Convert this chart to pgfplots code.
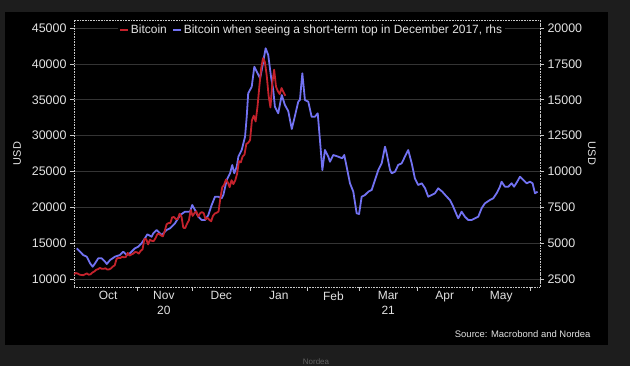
\documentclass[border=0pt]{standalone}
\usepackage{pgfplots}
\pgfplotsset{compat=1.18}
\usepackage{pgfplotstable}
\usepackage{fontspec}
\setmainfont{Liberation Sans}
\definecolor{bg}{HTML}{1D1D1D}
\definecolor{txt}{HTML}{E2E2E2}
\definecolor{gridc}{HTML}{343434}
\definecolor{btcred}{HTML}{C4222C}
\definecolor{btcblue}{HTML}{7272F2}
\definecolor{framec}{HTML}{C8C8C8}

\pgfplotstableread{
d v
-3 10693
-2 10840
-1 10776
0 10620
1 10570
2 10543
3 10670
4 10790
5 10604
6 10668
7 10915
8 11065
9 11296
10 11384
11 11555
12 11425
13 11430
14 11505
15 11322
16 11358
17 11483
18 11742
19 11916
20 12823
21 12965
22 12932
23 13108
24 13031
25 13075
26 13654
27 13271
28 13437
29 13546
30 13781
31 13737
32 13550
33 13950
34 14133
35 15579
36 15565
37 14833
38 15479
39 15332
40 15290
41 15701
42 16277
43 16317
44 16068
45 15955
46 16716
47 17645
48 17804
49 17817
50 18621
51 18642
52 18370
53 18364
54 19107
55 18732
56 17150
57 17108
58 17717
59 18178
60 19625
61 18802
62 19201
63 19445
64 18699
65 19154
66 19345
67 19191
68 18321
69 18553
70 18264
71 18058
72 18803
73 19142
74 19246
75 19417
76 21310
77 22805
78 23137
79 23869
80 23477
81 22803
82 23783
83 23241
84 23735
85 24665
86 26437
87 26272
88 27084
89 27362
90 28841
91 29002
92 29374
93 32127
94 32782
95 31971
96 33992
97 36824
98 39371
99 40797
100 40254
101 38356
102 35566
103 33922
104 37316
105 39187
106 36825
107 36178
108 35792
109 36630
110 36070
111 35548
}\redtab

\pgfplotstableread{
d v
-1.5 4641
0.3 4404
2.0 4174
3.9 4055
5.7 3595
7.1 3358
8.4 3595
10.1 3943
12.0 3943
13.8 3706
14.7 3546
16.5 3825
19.1 4055
21.8 4174
23.6 4404
25.5 4174
27.2 4292
29.9 4641
31.7 4752
33.5 4989
35.3 5338
36.6 5617
38.9 5449
39.8 5686
41.6 5917
44.3 5568
47.0 5917
48.8 6035
51.5 6384
54.3 6962
56.9 7192
59.6 7192
60.8 7660
62.3 7311
64.1 6844
65.9 6614
67.7 6614
69.5 6962
71.3 7660
73.1 8238
74.9 8238
76.7 8127
77.6 8357
79.4 9403
81.2 9870
82.4 10448
83.5 9870
84.8 10330
85.7 11027
87.5 11494
89.3 12421
90.2 13816
91.0 15447
92.9 15907
94.3 17302
95.6 16953
97.4 16493
98.3 17072
100.4 18585
101.8 18118
103.3 16605
104.5 15677
105.4 14513
107.2 14053
109.1 15329
110.8 14632
112.6 14213
114.5 12958
116.2 13865
118.0 14862
118.9 14980
120.2 16842
121.6 14980
123.4 14862
125.2 13816
127.0 13816
128.5 14053
129.7 12191
131.0 10100
132.4 11494
134.2 11027
135.1 10678
136.9 11146
139.6 11027
141.7 10915
142.8 11146
144.1 10330
145.9 9173
147.7 8587
149.5 7081
150.8 7032
152.2 8238
154.0 8357
155.8 8587
157.6 8705
159.4 9403
161.2 10100
163.0 10567
164.8 11724
165.7 11264
167.5 10100
168.4 9870
170.2 9981
171.9 10448
173.8 10567
175.5 11027
177.3 11494
179.2 10567
180.9 9521
182.7 9054
184.6 9173
186.4 8824
188.1 8238
190.0 8357
191.7 8475
193.5 8824
195.7 8587
198.1 8238
199.8 8008
201.6 7541
203.5 6962
204.3 6732
206.1 7192
207.9 6844
209.7 6614
211.5 6614
213.3 6732
215.1 6844
216.9 7429
218.7 7778
221.4 8008
223.2 8127
225.0 8475
226.8 8935
227.7 9284
229.5 8935
231.3 8935
233.1 9173
234.4 8935
236.1 9284
237.6 9633
239.4 9403
241.2 9173
243.0 9284
244.4 9173
245.7 8475
247.1 8587
}\bluetab

\begin{document}
\begin{tikzpicture}
\useasboundingbox (0,0) rectangle (630bp,366bp);
\fill[bg] (0,0) rectangle (630bp,366bp);
\fill[black] (5bp,21bp) rectangle (608bp,354bp);
% right-hand axis (blue series, drawn first so that red lies on top)
\begin{axis}[
  at={(74bp,79bp)}, anchor=south west,
  scale only axis, width=466bp, height=267bp,
  xmin=-2.97, xmax=248.4,
  ymin=1943, ymax=20558,
  axis x line=none, axis y line*=right,
  axis line style={densely dotted, framec, line width=0.6bp},
  tick align=outside,
  major tick length=4bp,
  tick style={framec, line width=0.6bp},
  ytick={2500,5000,...,20000},
  ymajorgrids,
  grid style={gridc, line width=0.6bp, solid},
  yticklabel style={text=txt, font=\fontsize{12.5}{14}\selectfont},
  /pgf/number format/.cd, 1000 sep={}, assume math mode=true, /pgfplots/.cd,
  scaled y ticks=false,
  ylabel={USD},
  ylabel style={at={(rel axis cs:1.1116,0.5)}, anchor=center, rotate=180, text=txt, font=\fontsize{11}{13}\selectfont},
]
\addplot[btcblue, line width=1.8bp, no markers, line join=round] table[x=d, y=v] {\bluetab};
\end{axis}
% left-hand axis (red series, legend)
\begin{axis}[
  at={(74bp,79bp)}, anchor=south west,
  scale only axis, width=466bp, height=267bp,
  xmin=-2.97, xmax=248.4,
  ymin=8895, ymax=46115,
  axis line style={densely dotted, framec, line width=0.6bp},
  tick align=outside,
  major tick length=4bp,
  tick style={framec, line width=0.6bp},
  ytick={10000,15000,...,45000},
  ytick pos=left,
  xtick pos=left,
  xtick={31,61,92,123,151,182,212,243},
  xticklabels={,,,,,,,},
  extra x ticks={15.5,45.5,76.5,107.5,137,166.5,197,227.5},
  extra x tick labels={Oct,{Nov\\20},Dec,Jan,Feb,{Mar\\21},Apr,May},
  extra x tick style={major tick length=0pt, xticklabel style={align=center, yshift=-1bp}},
  xticklabel style={text=txt, font=\fontsize{12}{15}\selectfont},
  yticklabel style={text=txt, font=\fontsize{12.5}{14}\selectfont},
  /pgf/number format/.cd, 1000 sep={}, assume math mode=true, /pgfplots/.cd,
  scaled y ticks=false,
  ylabel={USD},
  ylabel style={at={(rel axis cs:-0.1223,0.5)}, anchor=center, text=txt, font=\fontsize{11}{13}\selectfont},
  legend style={at={(0.094,0.963)}, anchor=west, fill=black, draw=none, text=txt,
    font=\fontsize{12}{14}\selectfont, inner sep=1bp,
    /tikz/every even column/.append style={column sep=3bp}},
  legend columns=2,
  legend image code/.code={\draw[#1, line width=2bp] (0bp,0bp) -- (8bp,0bp);},
]
\addplot[btcred, line width=1.8bp, no markers, line join=round] table[x=d, y=v] {\redtab};
\addlegendentry{Bitcoin}
\addlegendimage{btcblue, line width=1.8bp}
\addlegendentry{Bitcoin when seeing a short-term top in December 2017, rhs}
\end{axis}
\node[anchor=east, text=txt, font=\fontsize{9.5}{11}\selectfont] at (594bp,32bp) {Source: Macrobond and Nordea};
\node[text=black!62!white, font=\fontsize{8}{9}\selectfont] at (316bp,4bp) {Nordea};
\end{tikzpicture}
\end{document}
